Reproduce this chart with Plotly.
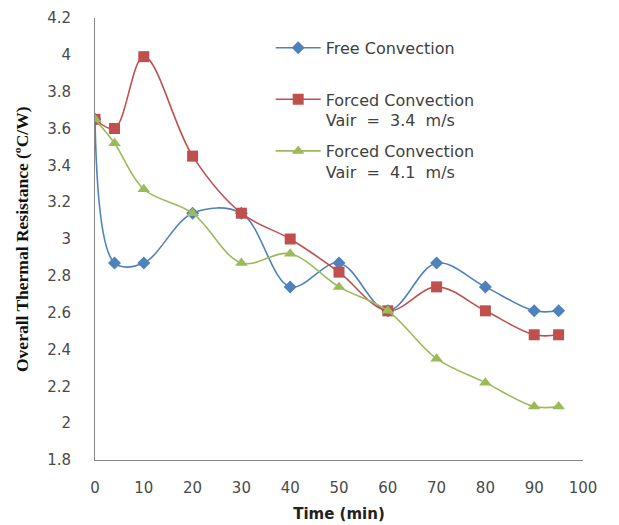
import plotly.graph_objects as go

time_min = [0, 4, 10, 20, 30, 40, 50, 60, 70, 80, 90, 95]
free_conv = [3.65, 2.87, 2.87, 3.14, 3.14, 2.74, 2.87, 2.61, 2.87, 2.74, 2.61, 2.61]
forced_34 = [3.65, 3.60, 3.99, 3.45, 3.14, 3.00, 2.82, 2.61, 2.74, 2.61, 2.48, 2.48]
forced_41 = [3.65, 3.52, 3.27, 3.14, 2.87, 2.92, 2.74, 2.61, 2.35, 2.22, 2.09, 2.09]

names = ["Free Convection<br> ",
         "Forced Convection<br>Vair  =  3.4  m/s",
         "Forced Convection<br>Vair  =  4.1  m/s"]
colors = ["#4F81BD", "#C0504D", "#9BBB59"]
symbols = ["diamond", "square", "triangle-up"]
sizes = [10, 11, 11]

fig = go.Figure()
for i, (ys, nm, c, s, sz) in enumerate(zip([free_conv, forced_34, forced_41], names, colors, symbols, sizes)):
    fig.add_trace(go.Scatter(
        x=time_min, y=ys, name=nm, mode="lines+markers", legendgroup=f"g{i}",
        line=dict(color=c, width=1.6, shape="spline", smoothing=1),
        marker=dict(color=c, symbol=s, size=sz),
    ))

fig.update_layout(
    width=619, height=525,
    margin=dict(l=87, r=44, t=10, b=73),
    paper_bgcolor="white", plot_bgcolor="white",
    font=dict(family="DejaVu Sans", color="#404040"),
    legend=dict(x=0.36, y=0.971, xanchor="left", yanchor="top",
                font=dict(size=16, color="#404040", family="DejaVu Sans"),
                valign="top", tracegroupgap=7, itemwidth=45, bgcolor="rgba(0,0,0,0)"),
    xaxis=dict(range=[0, 100], tickvals=list(range(0, 101, 10)),
               showgrid=False, zeroline=False, showline=True, automargin=False,
               linecolor="#868686", linewidth=1,
               ticks="outside", ticklen=14, tickcolor="rgba(0,0,0,0)",
               tickfont=dict(size=15, color="#4a4a4a"),
               title=dict(text="<b>Time (min)</b>", font=dict(size=15, color="#222222"), standoff=12)),
    yaxis=dict(range=[1.8, 4.2], tickvals=[1.8, 2, 2.2, 2.4, 2.6, 2.8, 3, 3.2, 3.4, 3.6, 3.8, 4, 4.2],
               ticktext=["1.8", "2", "2.2", "2.4", "2.6", "2.8", "3", "3.2", "3.4", "3.6", "3.8", "4", "4.2"],
               showgrid=False, zeroline=False, showline=True, automargin=False,
               linecolor="#868686", linewidth=1,
               ticks="outside", ticklen=20, tickcolor="rgba(0,0,0,0)",
               tickfont=dict(size=15, color="#4a4a4a")),
    annotations=[dict(text="<b>Overall Thermal Resistance (ºC/W)</b>", textangle=-90,
                      xref="paper", yref="paper", x=0, y=0.5, xanchor="center", yanchor="middle",
                      xshift=-73, showarrow=False,
                      font=dict(size=17.5, family="Liberation Serif", color="#111111"))],
)

fig.write_html("out.html")
